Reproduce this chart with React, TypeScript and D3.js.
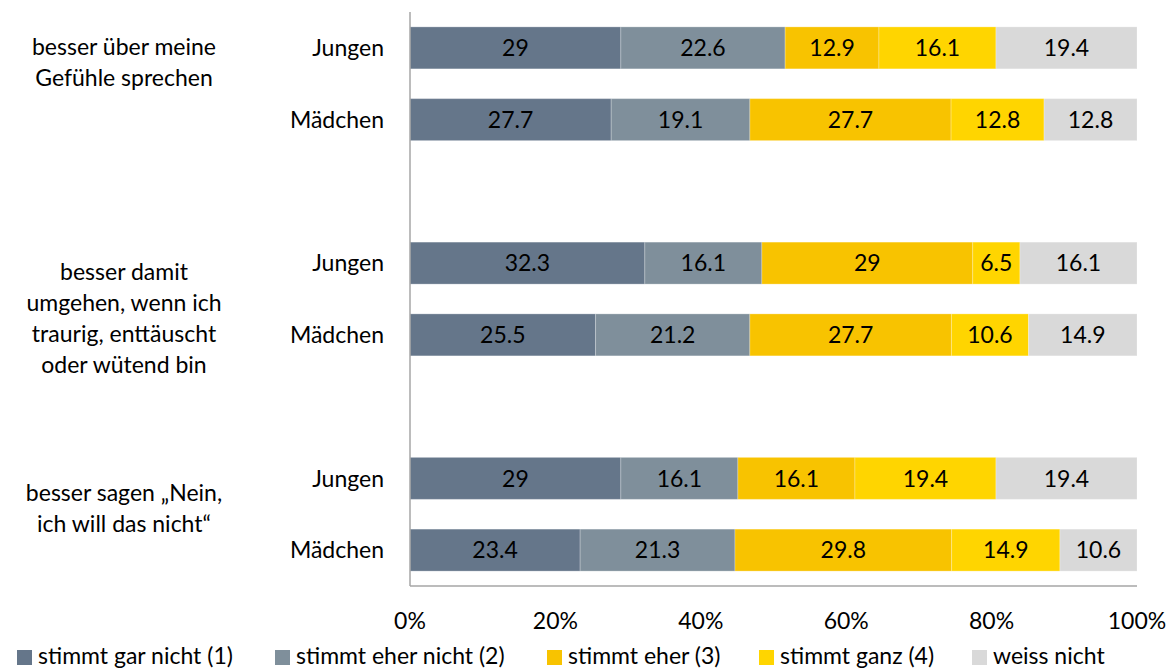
import React, { useRef, useEffect } from 'react';
import * as d3 from 'd3';

// categories (blank entries are the gaps between groups)
const rows = ['j1', 'm1', 'gap1', 'j2', 'm2', 'gap2', 'j3', 'm3'];
const rowLabels = ['Jungen', 'Mädchen', '', 'Jungen', 'Mädchen', '', 'Jungen', 'Mädchen'];
const seriesNames = ['stimmt gar nicht (1)', 'stimmt eher nicht (2)', 'stimmt eher (3)', 'stimmt ganz (4)', 'weiss nicht'];
const seriesColors = ['#65768A', '#7F8F9B', '#F8C300', '#FFD500', '#D9D9D9'];

const garNicht = [29, 27.7, 0, 32.3, 25.5, 0, 29, 23.4];
const eherNicht = [22.6, 19.1, 0, 16.1, 21.2, 0, 16.1, 21.3];
const eher = [12.9, 27.7, 0, 29, 27.7, 0, 16.1, 29.8];
const ganz = [16.1, 12.8, 0, 6.5, 10.6, 0, 19.4, 14.9];
const weissNicht = [19.4, 12.8, 0, 16.1, 14.9, 0, 19.4, 10.6];

const groupLabels = [
    ['besser über meine', 'Gefühle sprechen'],
    ['besser damit', 'umgehen, wenn ich', 'traurig, enttäuscht', 'oder wütend bin'],
    ['besser sagen „Nein,', 'ich will das nicht“'],
];
const xTicks = [0, 0.2, 0.4, 0.6, 0.8, 1];

const App: React.FC = () => {
    const svgRef = useRef<SVGSVGElement>(null);

    useEffect(() => {
        if (!svgRef.current) return;
        const width = 1170;
        const height = 670;
        const left = 410, right = 1137, top = 12, bottom = 586;
        const font = 'Lato, "Open Sans", sans-serif';
        const fs = '23px';

        const svg = d3.select(svgRef.current);
        svg.selectAll('*').remove();
        svg.attr('width', width).attr('height', height);

        const table = rows.map((r, i) => ({
            row: r,
            s0: garNicht[i], s1: eherNicht[i], s2: eher[i], s3: ganz[i], s4: weissNicht[i],
        }));
        const keys = ['s0', 's1', 's2', 's3', 's4'];
        const stacked = d3.stack<any>().keys(keys).offset(d3.stackOffsetExpand)(table);

        const x = d3.scaleLinear().domain([0, 1]).range([left, right]);
        const y = d3.scaleBand().domain(rows).range([top, bottom]).paddingInner(0.415).paddingOuter(0.2075);

        const g = svg.append('g');
        stacked.forEach((layer, k) => {
            const seg = g.selectAll(`.seg${k}`)
                .data(layer.filter(d => !d.data.row.startsWith('gap')))
                .enter();
            seg.append('rect')
                .attr('x', d => x(d[0]))
                .attr('y', d => y(d.data.row)!)
                .attr('width', d => x(d[1]) - x(d[0]))
                .attr('height', y.bandwidth())
                .attr('fill', seriesColors[k])
                .attr('stroke', '#ffffff')
                .attr('stroke-opacity', 0.25)
                .attr('stroke-width', 1);
            seg.append('text')
                .attr('x', d => (x(d[0]) + x(d[1])) / 2)
                .attr('y', d => y(d.data.row)! + y.bandwidth() / 2)
                .attr('dy', '0.36em')
                .attr('text-anchor', 'middle')
                .style('font-family', font)
                .style('font-size', fs)
                .attr('fill', '#000')
                .text(d => String(d.data[keys[k]]));
        });

        // axes lines
        svg.append('line').attr('x1', left).attr('x2', left).attr('y1', top).attr('y2', bottom)
            .attr('stroke', '#A6A6A6').attr('stroke-width', 1.5);
        svg.append('line').attr('x1', left).attr('x2', right).attr('y1', bottom).attr('y2', bottom)
            .attr('stroke', '#A6A6A6').attr('stroke-width', 1.5);

        // x tick labels
        svg.selectAll('.xtick').data(xTicks).enter().append('text')
            .attr('x', d => x(d))
            .attr('y', 629)
            .attr('text-anchor', 'middle')
            .style('font-family', font)
            .style('font-size', fs)
            .text(d => d3.format('.0%')(d));

        // row labels
        svg.selectAll('.rowlab').data(rows.filter((_, i) => rowLabels[i])).enter().append('text')
            .attr('x', 384)
            .attr('y', d => y(d)! + y.bandwidth() / 2)
            .attr('dy', '0.36em')
            .attr('text-anchor', 'end')
            .style('font-family', font)
            .style('font-size', fs)
            .text(d => rowLabels[rows.indexOf(d)]);

        // group labels
        const groupTop = [47, 272, 493];
        groupLabels.forEach((lines, gi) => {
            lines.forEach((line, li) => {
                svg.append('text')
                    .attr('x', 124)
                    .attr('y', groupTop[gi] + li * 31)
                    .attr('dy', '0.36em')
                    .attr('text-anchor', 'middle')
                    .style('font-family', font)
                    .style('font-size', fs)
                    .text(line);
            });
        });

        // legend
        const legendX = [17, 275, 547, 759, 972];
        seriesNames.forEach((name, i) => {
            svg.append('rect')
                .attr('x', legendX[i]).attr('y', 650)
                .attr('width', 15).attr('height', 15)
                .attr('fill', seriesColors[i]);
            svg.append('text')
                .attr('x', legendX[i] + 21).attr('y', 656)
                .attr('dy', '0.36em')
                .style('font-family', font)
                .style('font-size', fs)
                .text(name);
        });
    }, []);

    return <svg ref={svgRef} style={{ display: 'block', position: 'absolute', left: 0, top: 0 }}></svg>;
};

export default App;
